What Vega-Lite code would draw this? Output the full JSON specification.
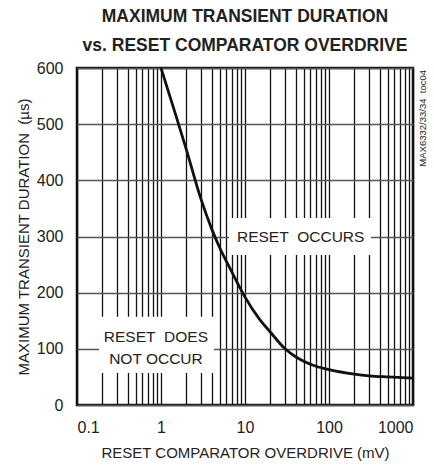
{
  "$schema": "https://vega.github.io/schema/vega-lite/v6.json",
  "width": 336,
  "height": 337,
  "autosize": "none",
  "padding": {"left": 77, "top": 68, "right": 21, "bottom": 63},
  "background": "white",
  "config": {
    "font": "Liberation Sans, Arial",
    "view": {"stroke": "#111", "strokeWidth": 2.5},
    "axis": {"domain": false, "ticks": false, "labelFontSize": 16, "labelColor": "#222", "titleFontSize": 15, "titleFontWeight": "normal", "titleColor": "#222", "gridOpacity": 1, "labelOverlap": false}
  },
  "title": {
    "text": ["MAXIMUM TRANSIENT DURATION", "vs. RESET COMPARATOR OVERDRIVE"],
    "fontSize": 17.5,
    "fontWeight": "bold",
    "color": "#222",
    "lineHeight": 29,
    "anchor": "middle",
    "offset": 6
  },
  "datasets": {
    "curve": [
      {"mv": 1, "us": 600},
      {"mv": 1.5, "us": 516},
      {"mv": 2, "us": 455},
      {"mv": 3, "us": 366},
      {"mv": 4, "us": 314},
      {"mv": 5, "us": 280},
      {"mv": 6.8, "us": 240},
      {"mv": 10, "us": 192},
      {"mv": 15, "us": 152},
      {"mv": 20, "us": 130},
      {"mv": 30, "us": 100},
      {"mv": 40, "us": 86},
      {"mv": 50, "us": 78},
      {"mv": 70, "us": 69},
      {"mv": 100, "us": 63},
      {"mv": 200, "us": 55},
      {"mv": 300, "us": 52},
      {"mv": 500, "us": 50},
      {"mv": 1000, "us": 48}
    ],
    "boxes": [
      {"x1": 6.45, "x2": 316, "y1": 267, "y2": 333},
      {"x1": 0.183, "x2": 4.27, "y1": 57, "y2": 157}
    ],
    "labels": [
      {"mv": 46, "us": 300, "text": ["RESET\u00a0 OCCURS"]},
      {"mv": 0.87, "us": 121, "text": ["RESET\u00a0 DOES", "NOT OCCUR"]}
    ]
  },
  "layer": [
    {
      "data": {"name": "boxes"},
      "mark": {"type": "rect", "fill": "white", "stroke": null},
      "encoding": {
        "x": {"field": "x1", "type": "quantitative", "scale": {"type": "log", "domain": [0.1, 1000]},
          "axis": {
            "values": [0.1,0.2,0.3,0.4,0.5,0.6,0.7,0.8,0.9,1,2,3,4,5,6,7,8,9,10,20,30,40,50,60,70,80,90,100,200,300,400,500,600,700,800,900,1000],
            "labelExpr": "indexof([0.1,1,10,100,1000], datum.value) >= 0 ? format(datum.value, '~g') : ''",
            "gridColor": "#111",
            "gridWidth": 1.3,
            "labelPadding": 14,
            "title": "RESET COMPARATOR OVERDRIVE (mV)",
            "titlePadding": 10
          }
        },
        "x2": {"field": "x2"},
        "y": {"field": "y1", "type": "quantitative", "scale": {"domain": [0, 600]},
          "axis": {
            "values": [0,50,100,150,200,250,300,350,400,450,500,550,600],
            "labelExpr": "datum.value % 100 == 0 ? datum.label : ''",
            "gridColor": "#555",
            "gridWidth": 1.3,
            "labelPadding": 14,
            "title": "MAXIMUM TRANSIENT DURATION\u00a0 (µs)",
            "titlePadding": 5
          }
        },
        "y2": {"field": "y2"}
      }
    },
    {
      "data": {"name": "curve"},
      "mark": {"type": "line", "color": "#111", "strokeWidth": 2.8, "interpolate": "monotone", "clip": true},
      "encoding": {
        "x": {"field": "mv", "type": "quantitative"},
        "y": {"field": "us", "type": "quantitative"}
      }
    },
    {
      "data": {"name": "labels"},
      "mark": {"type": "text", "fontSize": 15.5, "color": "#222", "lineHeight": 21.5, "baseline": "middle", "align": "center"},
      "encoding": {
        "x": {"field": "mv", "type": "quantitative"},
        "y": {"field": "us", "type": "quantitative"},
        "text": {"field": "text"}
      }
    },
    {
      "data": {"values": [{"t": "MAX6332/33/34\u00a0 toc04"}]},
      "mark": {"type": "text", "fontSize": 9.5, "color": "#222", "angle": 270, "align": "right", "baseline": "middle", "dy": 10, "dx": -2},
      "encoding": {
        "x": {"datum": 1000, "type": "quantitative"},
        "y": {"datum": 600, "type": "quantitative"},
        "text": {"field": "t"}
      }
    }
  ]
}
